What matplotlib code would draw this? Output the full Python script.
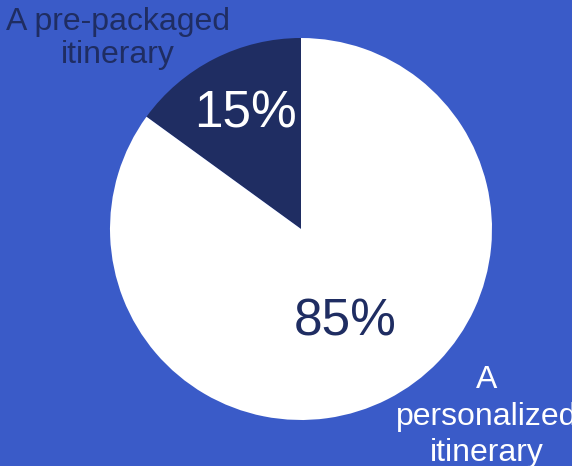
import matplotlib
matplotlib.use("Agg")
import matplotlib.pyplot as plt

# Share of travellers by preferred itinerary type
categories = ["A pre-packaged\nitinerary", "A\npersonalized\nitinerary"]
shares = [15, 85]

BG = "#3A5BC8"
NAVY = "#1F2D62"
WHITE = "#FFFFFF"
slice_colors = [NAVY, WHITE]
pct_colors = [WHITE, NAVY]

plt.rcParams["font.family"] = ["Liberation Sans", "DejaVu Sans"]

W, H = 572, 466
fig = plt.figure(figsize=(W / 100, H / 100), dpi=100, facecolor=BG)

# pie centre and radius in pixels
cx, cy, r = 301, 229, 191
ax = fig.add_axes([(cx - r) / W, (H - cy - r) / H, 2 * r / W, 2 * r / H])
ax.set_facecolor(BG)
ax.axis("off")

wedges, _ = ax.pie(shares, colors=slice_colors, startangle=90,
                   counterclock=True, radius=1.0,
                   wedgeprops=dict(linewidth=0))
ax.set_xlim(-1, 1)
ax.set_ylim(-1, 1)
ax.set_aspect("equal")

# percentage labels (pixel positions of their baselines)
pct_pos = [(245, 127), (345, 335)]
for val, (px, py), col in zip(shares, pct_pos, pct_colors):
    fig.text(px / W, 1 - py / H, f"{val}%", ha="center", va="baseline",
             fontsize=37, color=col)

# category labels outside the pie (baseline of the last line, in pixels)
label_pos = [(118, 63, NAVY, 1.12), (487, 461, WHITE, 1.28)]
for text, (px, py, col, ls) in zip(categories, label_pos):
    fig.text(px / W, 1 - py / H, text, ha="center", va="baseline",
             fontsize=23, color=col, linespacing=ls, zorder=5)

fig.savefig("out.png", dpi=100, facecolor=BG)
